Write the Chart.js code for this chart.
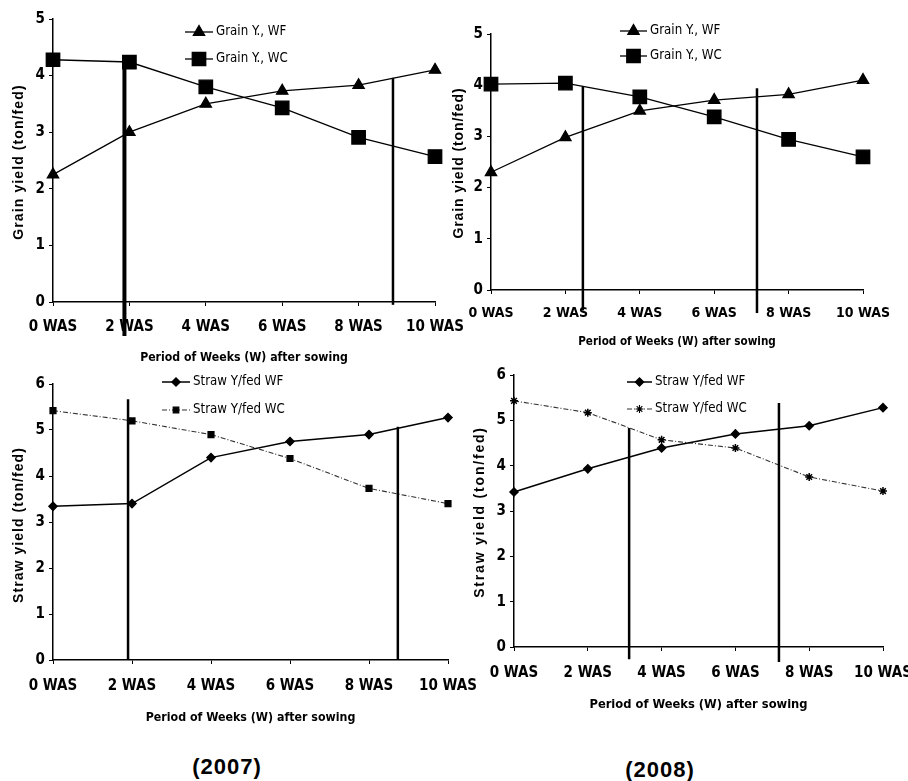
<!DOCTYPE html>
<html>
<head>
<meta charset="utf-8">
<script src="https://cdn.jsdelivr.net/npm/chart.js@4.4.1/dist/chart.umd.min.js"></script>
<style>
  body { margin: 0; background: #fff; width: 908px; height: 781px; position: relative; overflow: hidden; }
  canvas { position: absolute; }
  .year { position: absolute; font: bold 22px 'Liberation Sans', Arial, sans-serif; letter-spacing: 1px;
          transform: translate(-50%, -50%); color: #000; }
</style>
</head>
<body>
<canvas id="grain2007"></canvas>
<canvas id="grain2008"></canvas>
<canvas id="straw2007"></canvas>
<canvas id="straw2008"></canvas>
<div class="year" style="left:227px;top:767px">(2007)</div>
<div class="year" style="left:660px;top:770px">(2008)</div>
<script>
// =====================================================
// data
const weeks = ['0 WAS', '2 WAS', '4 WAS', '6 WAS', '8 WAS', '10 WAS'];

const grainWF2007 = [2.25, 3.0, 3.5, 3.73, 3.83, 4.1];
const grainWC2007 = [4.28, 4.24, 3.8, 3.43, 2.91, 2.57];
const grainWF2008 = [2.3, 2.98, 3.5, 3.71, 3.82, 4.1];
const grainWC2008 = [4.02, 4.04, 3.77, 3.38, 2.94, 2.6];

const strawWF2007 = [3.34, 3.4, 4.4, 4.75, 4.9, 5.27];
const strawWC2007 = [5.42, 5.2, 4.9, 4.38, 3.73, 3.4];
const strawWF2008 = [3.42, 3.93, 4.39, 4.7, 4.88, 5.28];
const strawWC2008 = [5.43, 5.17, 4.57, 4.39, 3.75, 3.44];

// vertical marker lines: week position, lower and upper yield
const grainMarkWeeks2007 = [1.87, 8.9];
const grainMarkFrom2007 = [-0.6, -0.05];
const grainMarkTo2007 = [4.27, 3.96];
const grainMarkWeeks2008 = [2.47, 7.15];
const grainMarkFrom2008 = [-0.4, -0.45];
const grainMarkTo2008 = [3.98, 3.94];
const strawMarkWeeks2007 = [1.9, 8.73];
const strawMarkFrom2007 = [0, 0];
const strawMarkTo2007 = [5.67, 5.07];
const strawMarkWeeks2008 = [3.12, 7.18];
const strawMarkFrom2008 = [-0.27, -0.33];
const strawMarkTo2008 = [4.83, 5.38];

const narrow = "'Liberation Sans Narrow', 'DejaVu Sans Condensed', sans-serif";
Chart.defaults.color = '#000';
Chart.defaults.font.family = narrow;

// =====================================================
// dataset styles
function grainSets(wf, wc) {
  return [
    { label: 'Grain Y., WF', data: wf, borderColor: '#000', backgroundColor: '#000', borderWidth: 1.3,
      pointStyle: 'triangle', pointRadius: 6.5, tension: 0, clip: false },
    { label: 'Grain Y., WC', data: wc, borderColor: '#000', backgroundColor: '#000', borderWidth: 1.3,
      pointStyle: 'rect', pointRadius: 9.5, tension: 0, clip: false }
  ];
}

function strawSets(wf, wc, wcStyle) {
  return [
    { label: 'Straw Y/fed WF', data: wf, borderColor: '#000', backgroundColor: '#000', borderWidth: 1.5,
      pointStyle: 'rectRot', pointRadius: 4, tension: 0, clip: false },
    { label: 'Straw Y/fed WC', data: wc, borderColor: '#333', backgroundColor: '#000', borderWidth: 1.1,
      borderDash: [5, 2, 1, 2], pointBorderColor: '#000', pointBorderWidth: 1.5,
      pointStyle: wcStyle, pointRadius: 4, tension: 0, clip: false }
  ];
}

// =====================================================
// one panel = one canvas; box and area are page coordinates
function buildPanel(id, box, area, cfg) {
  const cv = document.getElementById(id);
  cv.width = box.w;
  cv.height = box.h;
  cv.style.left = box.x + 'px';
  cv.style.top = box.y + 'px';
  const aLeft = area.l - box.x, aTop = area.t - box.y;
  const aRight = area.r - box.x, aBottom = area.b - box.y;

  const extras = {
    id: 'extras_' + id,
    afterDatasetsDraw(chart) {
      const ctx = chart.ctx, xs = chart.scales.x, ys = chart.scales.y;
      // vertical marker lines
      ctx.save();
      ctx.strokeStyle = '#000';
      cfg.markWeeks.forEach((w, i) => {
        const px = xs.getPixelForValue(w / 2);
        ctx.lineWidth = cfg.markWidths[i];
        ctx.beginPath();
        ctx.moveTo(px, ys.getPixelForValue(cfg.markFrom[i]));
        ctx.lineTo(px, ys.getPixelForValue(cfg.markTo[i]));
        ctx.stroke();
      });
      ctx.restore();

      // legend: line with marker, then text
      ctx.save();
      chart.data.datasets.forEach((ds, i) => {
        const y = cfg.legend.y - box.y + i * cfg.legend.gap;
        const x0 = cfg.legend.x - box.x, x1 = x0 + cfg.legend.len;
        ctx.strokeStyle = ds.borderColor;
        ctx.lineWidth = ds.borderWidth;
        ctx.setLineDash(ds.borderDash || []);
        ctx.beginPath();
        ctx.moveTo(x0, y);
        ctx.lineTo(x1, y);
        ctx.stroke();
        ctx.setLineDash([]);
        ctx.fillStyle = '#000';
        ctx.strokeStyle = ds.pointBorderColor || '#000';
        Chart.helpers.drawPoint(ctx, { pointStyle: ds.pointStyle, radius: ds.pointRadius, rotation: 0,
          borderWidth: ds.pointBorderWidth || 1 }, (x0 + x1) / 2, y);
        ctx.fillStyle = '#000';
        ctx.font = '13.2px ' + narrow;
        ctx.textAlign = 'left';
        ctx.textBaseline = 'middle';
        ctx.fillText(ds.label, x1 + 3, y);
      });
      ctx.restore();

      // y axis title, bold and letter spaced
      ctx.save();
      ctx.translate(cfg.yTitle.x - box.x, cfg.yTitle.y - box.y);
      ctx.rotate(-Math.PI / 2);
      ctx.font = "bold 14px 'Liberation Sans', Arial, sans-serif";
      ctx.letterSpacing = cfg.yTitle.spacing + 'px';
      ctx.textAlign = 'center';
      ctx.textBaseline = 'middle';
      ctx.fillStyle = '#000';
      ctx.fillText(cfg.yTitle.text, 0, 0);
      ctx.restore();
    }
  };

  return new Chart(cv, {
    type: 'line',
    data: { labels: weeks, datasets: cfg.datasets },
    options: {
      responsive: false,
      animation: false,
      layout: { padding: { left: 0, top: aTop, right: box.w - aRight, bottom: 0 } },
      plugins: { legend: { display: false }, tooltip: { enabled: false } },
      scales: {
        x: {
          type: 'category',
          offset: false,
          border: { display: true, color: '#000', width: 1.5 },
          grid: { display: true, drawOnChartArea: false, drawTicks: true, tickLength: 4, color: '#000' },
          ticks: { autoSkip: false, maxRotation: 0, padding: cfg.xPad, font: { size: cfg.xFont, weight: 'bold' } },
          title: { display: true, text: 'Period of Weeks (W) after sowing', padding: 0,
                   font: { size: cfg.xTitleSize, weight: 'bold' } },
          afterFit: s => { s.height = box.h - aBottom; s.paddingLeft = 0; s.paddingRight = 0; }
        },
        y: {
          min: 0,
          max: cfg.yMax,
          border: { display: true, color: '#000', width: 1.5 },
          grid: { display: true, drawOnChartArea: false, drawTicks: true, tickLength: 4, color: '#000' },
          ticks: { stepSize: 1, padding: 4, font: { size: 15, weight: 'bold' } },
          afterFit: s => { s.width = aLeft; s.paddingTop = 0; s.paddingBottom = 0; }
        }
      }
    },
    plugins: [extras]
  });
}

// ===================== Grain 2007 ============================
buildPanel('grain2007', { x: 0, y: 0, w: 470, h: 365 }, { l: 53, t: 19, r: 435, b: 302 }, {
  datasets: grainSets(grainWF2007, grainWC2007), yMax: 5, xPad: 12, xFont: 15, xTitleSize: 12.2,
  markWeeks: grainMarkWeeks2007, markFrom: grainMarkFrom2007, markTo: grainMarkTo2007, markWidths: [4, 2.5],
  legend: { x: 185, y: 32, gap: 27, len: 28 },
  yTitle: { text: 'Grain yield (ton/fed)', x: 19, y: 162, spacing: 1.1 }
});

// ===================== Grain 2008 ============================
buildPanel('grain2008', { x: 445, y: 0, w: 463, h: 349 }, { l: 491, t: 34, r: 863, b: 290 }, {
  datasets: grainSets(grainWF2008, grainWC2008), yMax: 5, xPad: 11, xFont: 14, xTitleSize: 11.6,
  markWeeks: grainMarkWeeks2008, markFrom: grainMarkFrom2008, markTo: grainMarkTo2008, markWidths: [2.5, 2.5],
  legend: { x: 620, y: 31, gap: 25, len: 27 },
  yTitle: { text: 'Grain yield (ton/fed)', x: 459, y: 163, spacing: 0.9 }
});

// ===================== Straw 2007 ============================
buildPanel('straw2007', { x: 0, y: 368, w: 480, h: 357 }, { l: 53, t: 384, r: 448, b: 660 }, {
  datasets: strawSets(strawWF2007, strawWC2007, 'rect'), yMax: 6, xPad: 13, xFont: 15, xTitleSize: 12.3,
  markWeeks: strawMarkWeeks2007, markFrom: strawMarkFrom2007, markTo: strawMarkTo2007, markWidths: [2.5, 2.5],
  legend: { x: 162, y: 382, gap: 28, len: 28 },
  yTitle: { text: 'Straw yield (ton/fed)', x: 19, y: 525, spacing: 1.05 }
});

// ===================== Straw 2008 ============================
buildPanel('straw2008', { x: 445, y: 360, w: 463, h: 352 }, { l: 514, t: 375, r: 883, b: 647 }, {
  datasets: strawSets(strawWF2008, strawWC2008, 'star'), yMax: 6, xPad: 13, xFont: 15, xTitleSize: 12.8,
  markWeeks: strawMarkWeeks2008, markFrom: strawMarkFrom2008, markTo: strawMarkTo2008, markWidths: [2.5, 2.5],
  legend: { x: 627, y: 382, gap: 27, len: 25 },
  yTitle: { text: 'Straw yield (ton/fed)', x: 480, y: 512, spacing: 1.8 }
});
</script>
</body>
</html>
